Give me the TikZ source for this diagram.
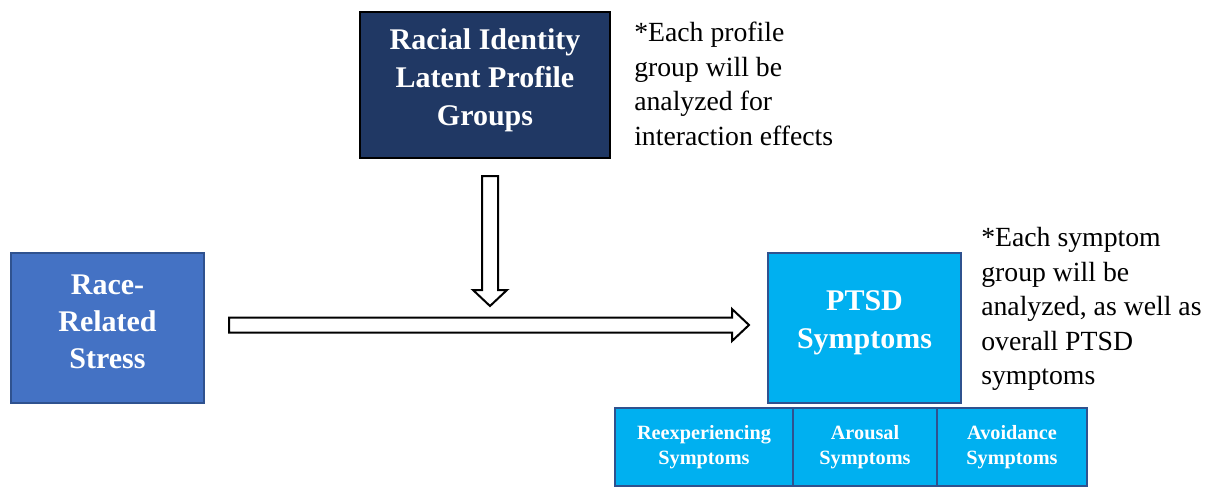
\documentclass[tikz,border=0pt]{standalone}
\usepackage{fontspec}
\setmainfont{Liberation Serif}
\usepackage{tikz}
\usetikzlibrary{calc}
\definecolor{navy}{HTML}{203864}
\definecolor{midblue}{HTML}{4472C4}
\definecolor{skyblue}{HTML}{00B0F0}
\definecolor{edgeblue}{HTML}{2F528F}

\begin{document}
\begin{tikzpicture}[x=0.75pt,y=-0.75pt,
  box/.style={draw=edgeblue,line width=1.5pt,text=white,align=center,inner sep=0pt,
    text depth=12.5pt,font=\fontsize{22.5}{28.5}\selectfont\bfseries},
  sub/.style={draw=edgeblue,line width=1.5pt,fill=skyblue,text=white,align=center,inner sep=0pt,
    minimum height=58.5pt,font=\fontsize{15.2}{18.8}\selectfont\bfseries},
  note/.style={anchor=north west,align=left,inner sep=0pt,
    font=\fontsize{20.8}{25.9}\selectfont},
  blockarrow/.style={draw=black,line width=1.5pt,fill=white,line join=miter}]
\useasboundingbox (0,0) rectangle (1212,487);
% boxes
\node[box,draw=black,fill=navy,minimum width=187.5pt,minimum height=109.5pt] (racial) at (485,85)
  {Racial Identity\\Latent Profile\\Groups};
\node[box,fill=midblue,minimum width=144.75pt,minimum height=112.5pt,text depth=9.5pt,
  font=\fontsize{22.5}{27.8}\selectfont\bfseries] (stress) at (107.5,328)
  {Race-\\Related\\Stress};
\node[box,fill=skyblue,minimum width=144.75pt,minimum height=112.5pt] (ptsd) at (864.5,328)
  {PTSD\\Symptoms};
\node[sub,minimum width=133.5pt] (reexp) at (704,447) {Reexperiencing\\Symptoms};
\node[sub,minimum width=108pt] (arousal) at (865,447) {Arousal\\Symptoms};
\node[sub,minimum width=112.5pt] (avoid) at (1012,447) {Avoidance\\Symptoms};
% notes
\node[note] (profnote) at (634,22) {*Each profile\\group will be\\analyzed for\\interaction effects};
\node[note] (sympnote) at (981,227) {*Each symptom\\group will be\\analyzed, as well as\\overall PTSD\\symptoms};
% block arrows
\coordinate (vs) at ($(racial.south)+(5,17)$);
\coordinate (ve) at ($(racial.south)+(5,147)$);
\draw[blockarrow] ($(vs)+(-8,0)$) -- ($(ve)+(-8,-16)$) -- ($(ve)+(-17,-16)$) -- (ve)
  -- ($(ve)+(17,-16)$) -- ($(ve)+(8,-16)$) -- ($(vs)+(8,0)$) -- cycle;
\coordinate (hs) at ($(stress.east)+(24,-3)$);
\coordinate (he) at ($(ptsd.west)+(-18,-3)$);
\draw[blockarrow] ($(hs)+(0,-7.5)$) -- ($(he)+(-17,-7.5)$) -- ($(he)+(-17,-16)$) -- (he)
  -- ($(he)+(-17,16)$) -- ($(he)+(-17,7.5)$) -- ($(hs)+(0,7.5)$) -- cycle;
\end{tikzpicture}
\end{document}
